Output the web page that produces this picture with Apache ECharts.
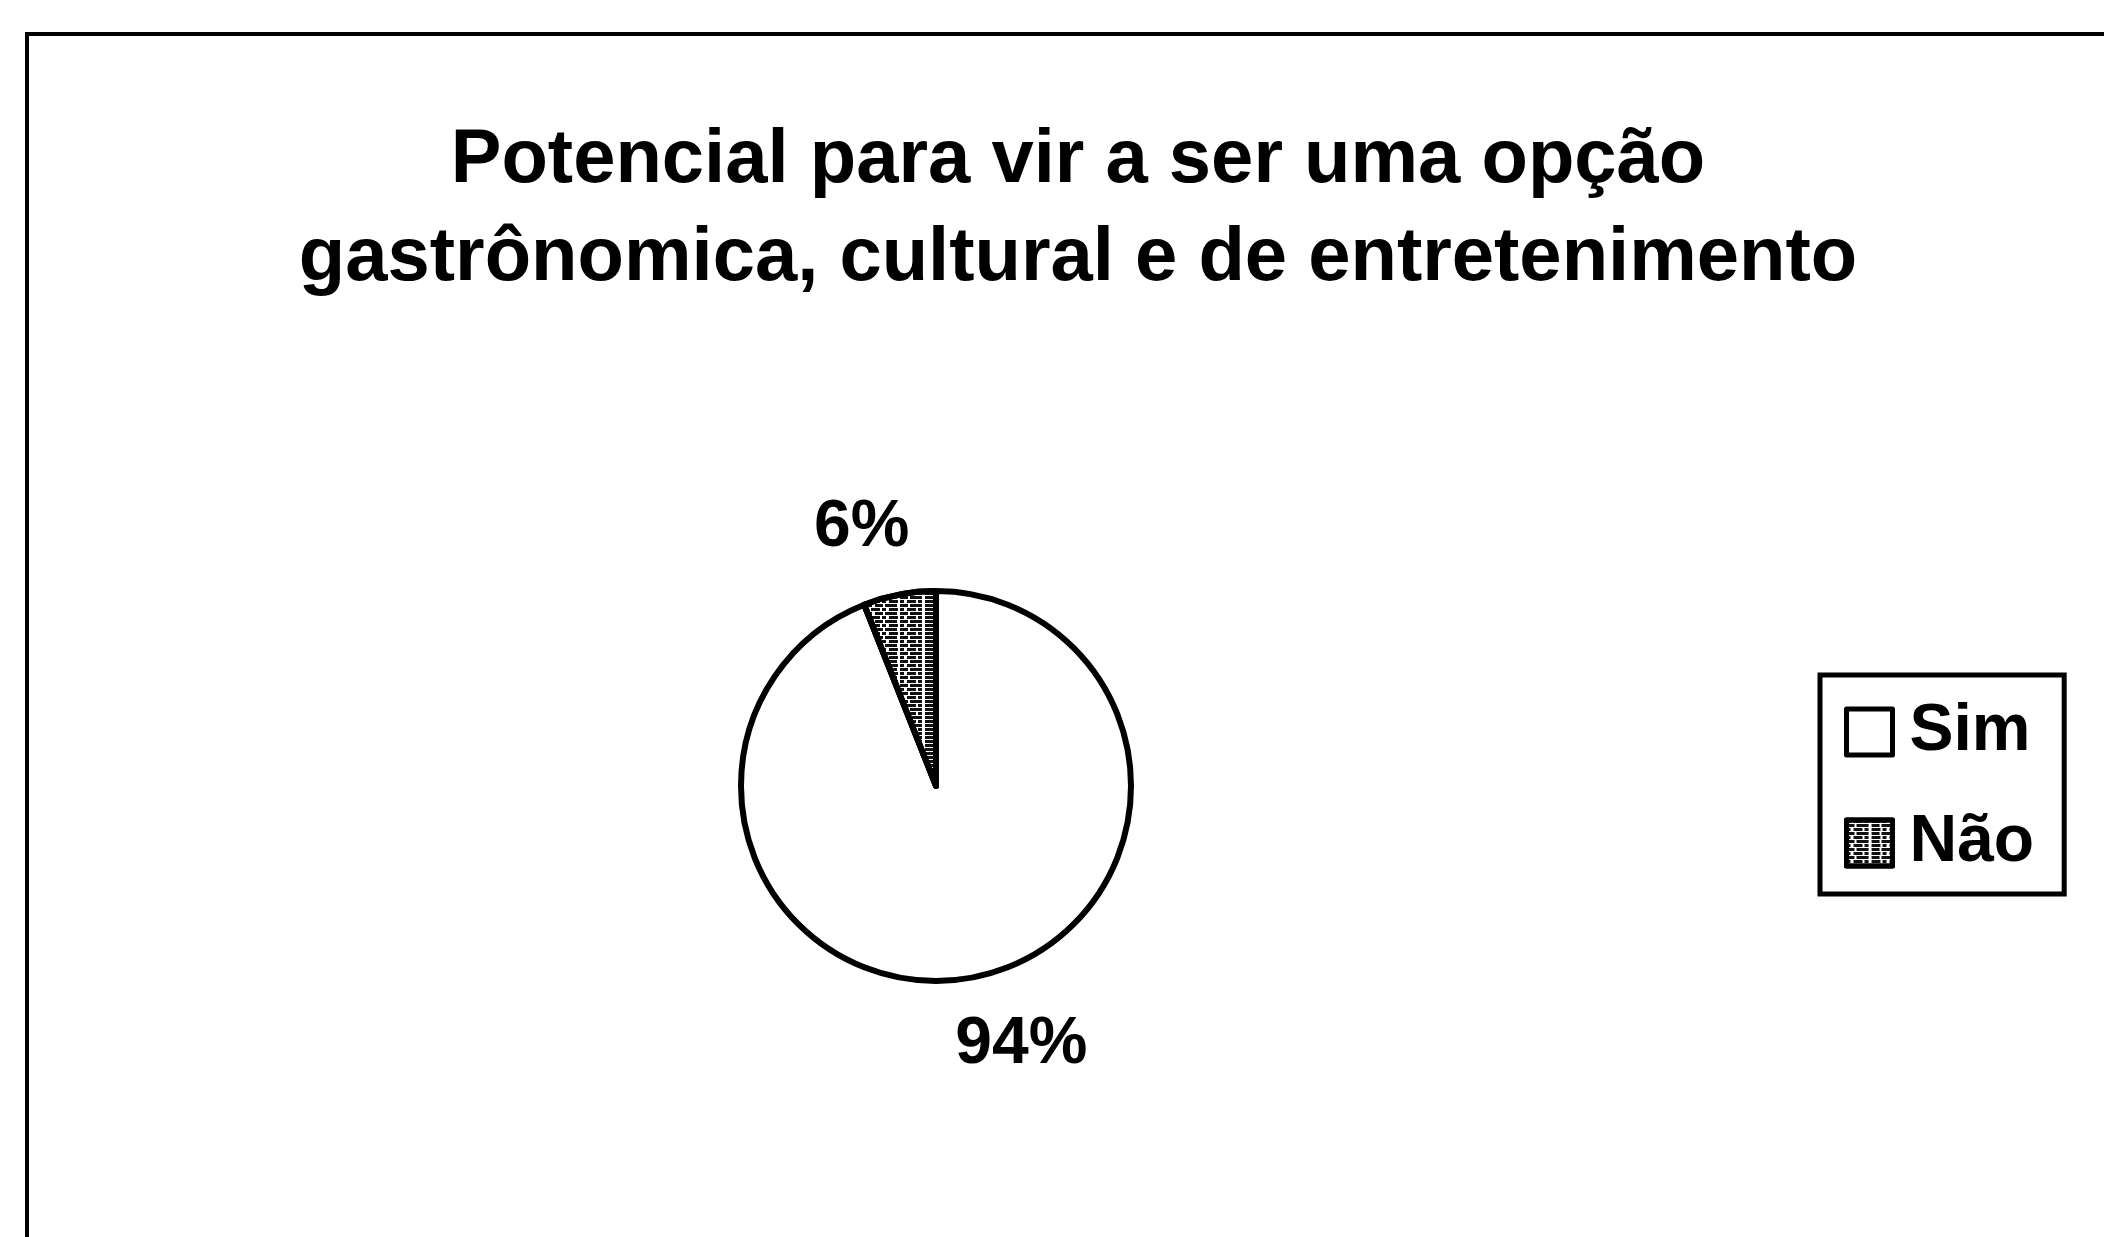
<!DOCTYPE html>
<html>
<head>
<meta charset="utf-8">
<title>Potencial para vir a ser uma opção</title>
<script src="https://cdn.jsdelivr.net/npm/echarts@6/dist/echarts.min.js"></script>
<style>
  html, body { margin: 0; padding: 0; background: #fff; }
  #chart { width: 2104px; height: 1237px; }
</style>
</head>
<body>
<div id="chart"></div>
<script>
// data
const categories = ['Sim', 'Não']
const values = [94, 6]
const titleText = 'Potencial para vir a ser uma opção\ngastrônomica, cultural e de entretenimento'

const FONT = '"Liberation Sans", Arial, sans-serif'

const chart = echarts.init(document.getElementById('chart'))

// horizontal nudge for each outside label (Sim, Não)
const labelShift = [36, -25]

const option = {
  backgroundColor: '#fff',
  animation: false,
  graphic: [
    {
      // frame of the scanned chart area, running off the right and bottom
      type: 'rect',
      shape: { x: 27, y: 34, width: 2200, height: 1300 },
      style: { fill: 'none', stroke: '#000', lineWidth: 4 },
      z: 0,
    },
  ],
  title: {
    text: titleText,
    left: 1073,
    top: 107,
    textAlign: 'center',
    textStyle: {
      fontFamily: FONT,
      fontWeight: 'bold',
      fontSize: 76,
      lineHeight: 98,
      color: '#000',
    },
  },
  legend: {
    orient: 'vertical',
    left: 1820,
    top: 675,
    padding: [24, 30, 18, 24],
    itemWidth: 46,
    itemHeight: 46,
    itemGap: 45,
    icon: 'rect',
    borderColor: '#000',
    borderWidth: 5,
    backgroundColor: '#fff',
    itemStyle: { borderColor: '#000', borderWidth: 5 },
    textStyle: {
      fontFamily: FONT,
      fontWeight: 'bold',
      fontSize: 66,
      color: '#000',
      padding: [0, 0, 0, 12],
    },
    data: categories,
  },
  series: [
    {
      type: 'pie',
      center: [936, 786],
      radius: 195,
      startAngle: 90,
      clockwise: true,
      avoidLabelOverlap: false,
      itemStyle: { borderColor: '#000', borderWidth: 6 },
      label: {
        show: true,
        position: 'outside',
        formatter: '{d}%',
        distanceToLabelLine: 0,
        fontFamily: FONT,
        fontWeight: 'bold',
        fontSize: 66,
        color: '#000',
      },
      labelLine: { show: false, length: 68, length2: 0 },
      labelLayout: params => ({ align: 'center', dx: labelShift[params.dataIndex] }),
      emphasis: { disabled: true },
      data: [
        { name: categories[0], value: values[0], itemStyle: { color: '#fff' } },
        {
          name: categories[1],
          value: values[1],
          itemStyle: {
            color: '#fff',
            decal: {
              symbol: 'rect',
              symbolSize: 1,
              color: '#111',
              dashArrayX: [[8, 2, 12, 3], [4, 3, 9, 2]],
              dashArrayY: [3, 1],
              rotation: 0,
            },
          },
        },
      ],
    },
  ],
}

chart.setOption(option)
</script>
</body>
</html>
